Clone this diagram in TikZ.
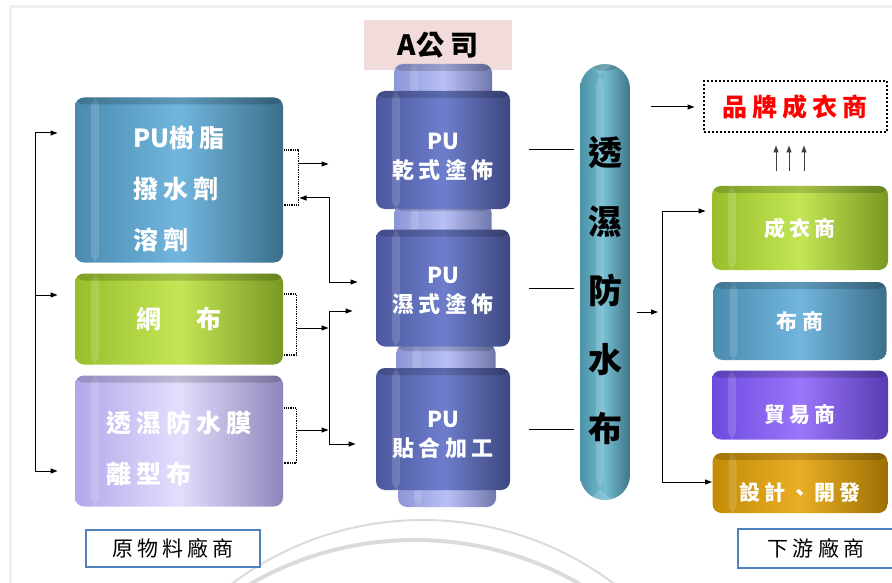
\documentclass[tikz,border=0pt]{standalone}
\usepackage{fontspec}
\setmainfont{Noto Sans CJK TC}
\newfontfamily\cjkw[LetterSpace=20]{Noto Sans CJK TC}
\usetikzlibrary{arrows.meta}

\definecolor{rawD}{HTML}{4A8BAE}   \definecolor{rawL}{HTML}{72B6DE}
\definecolor{meshD}{HTML}{98BE2C}  \definecolor{meshL}{HTML}{C4E655}
\definecolor{filmD}{HTML}{B2A8EA}  \definecolor{filmL}{HTML}{E4DEFD}
\definecolor{procD}{HTML}{4C589E}  \definecolor{procL}{HTML}{6E7ECC}
\definecolor{capD}{HTML}{8C96D6}   \definecolor{capL}{HTML}{B8C0F6}
\definecolor{pillD}{HTML}{4C92A6}  \definecolor{pillL}{HTML}{74BCD0}
\definecolor{tradeD}{HTML}{6E4ADE} \definecolor{tradeL}{HTML}{9A76FC}
\definecolor{desD}{HTML}{C28C04}   \definecolor{desL}{HTML}{EAAE26}
\definecolor{boxblue}{HTML}{4F81BD}
\definecolor{pinkbg}{HTML}{F2DCDB}

\newcommand\rawtxt{\cjkw\bfseries\fontsize{25}{51}\selectfont}
\newcommand\midtxt{\cjkw\bfseries\fontsize{22}{29}\selectfont}
\newcommand\pilltxt{\bfseries\fontsize{34}{69}\selectfont}
\newcommand\dntxt{\cjkw\bfseries\fontsize{21}{25}\selectfont}
\newcommand\lbltxt{\cjkw\fontsize{21}{25}\selectfont}

\tikzset{
  wh/.style 2 args={minimum width=#1, minimum height=#2},
  cyl/.style 2 args={rectangle, rounded corners=9pt, inner sep=0pt, align=center, text=white,
    left color=#1, right color=#1!80!black, middle color=#2,
    path picture={
      \fill[white, opacity=.15] ([xshift=16pt]path picture bounding box.south west)
        rectangle ([xshift=24pt]path picture bounding box.north west);
      \fill[black, opacity=.16] (path picture bounding box.north west)
        rectangle ([yshift=-7pt]path picture bounding box.north east);
    }},
  lblbox/.style={rectangle, draw=boxblue, line width=2pt, fill=white, inner sep=0pt, font=\lbltxt},
  dotbr/.style={densely dotted, line width=1.3pt},
  arr/.style={-{Triangle[length=7pt,width=5pt]}},
}

\begin{document}
\begin{tikzpicture}[x=1pt, y=-1pt, line width=1pt]

  %% background frame and arcs
  \draw[black!6, line width=3pt] (10,600) -- (10,7) -- (900,7);
  \draw[black!14, line width=2pt] (423,838) circle[radius=318pt];
  \draw[black!14, line width=4pt] (415,870) circle[radius=330pt];

  %% raw material suppliers
  \node[cyl={rawD}{rawL}, wh={208}{165}, align=left, font=\rawtxt, text height=142pt] (resin) at (179,180) {{\rmfamily PU}樹脂\\撥水劑\\溶劑};
  \node[cyl={meshD}{meshL}, wh={208}{91}, font=\rawtxt] (mesh) at (179,319) {網　布};
  \node[cyl={filmD}{filmL}, wh={208}{131}, align=left, font=\rawtxt, text height=88pt] (film) at (179,441) {透濕防水膜\\離型布};
  \node[lblbox, wh={174}{37}] (rawlbl) at (173,548) {原物料廠商};

  %% company A stack
  \node[fill=pinkbg, wh={148}{50}, font=\cjkw\bfseries\fontsize{28}{30}\selectfont] (comp) at (438,45) {{\rmfamily A}公司};
  \node[cyl={capD}{capL}, wh={98}{36}] (capTop) at (443,82) {};
  \node[cyl={capD}{capL}, wh={97}{36}] (cap12) at (443,222) {};
  \node[cyl={capD}{capL}, wh={99}{34}] (cap23) at (446,361) {};
  \node[cyl={capD}{capL}, wh={98}{24}] (capBot) at (447,495) {};
  \node[cyl={procD}{procL}, wh={134}{118}, font=\midtxt, text height=60pt] (dry) at (443,150) {{\rmfamily PU}\\乾式塗佈};
  \node[cyl={procD}{procL}, wh={134}{117}, font=\midtxt, text height=52pt] (wet) at (443,288) {{\rmfamily PU}\\濕式塗佈};
  \node[cyl={procD}{procL}, wh={134}{122}, font=\midtxt, text height=58pt] (lam) at (443,429) {{\rmfamily PU}\\貼合加工};

  %% product
  \node[cyl={pillD}{pillL}, rounded corners=25pt, wh={50}{436}, text=black, font=\pilltxt, text height=322pt] (fabric) at (605,282) {透\\濕\\防\\水\\布};

  %% downstream
  \node[draw, line width=2pt, dash pattern=on 2pt off 2pt, wh={183}{51}, text=red, font=\cjkw\bfseries\fontsize{25}{30}\selectfont] (brand) at (795,107) {品牌成衣商};
  \node[cyl={meshD}{meshL}, wh={176}{84}, font=\dntxt] (garment) at (800,228) {成衣商};
  \node[cyl={rawD}{rawL}, wh={173}{78}, font=\dntxt] (cloth) at (800,321) {布商};
  \node[cyl={tradeD}{tradeL}, wh={176}{69}, font=\dntxt, text height=38pt] (trade) at (800,405) {貿易商};
  \node[cyl={desD}{desL}, wh={175}{60}, font=\dntxt, text height=38pt] (design) at (800,483) {設計、開發};
  \node[lblbox, wh={156}{39}] (dnlbl) at (816,548) {下游廠商};

  %% left bus into raw materials
  \coordinate (busTop) at (35,133);
  \coordinate (busMid) at (35,295);
  \coordinate (busBot) at (35,471);
  \draw (busTop) -- (busBot);
  \draw[arr, shorten >=17pt] (busTop) -- (busTop -| resin.west);
  \draw[arr, shorten >=17pt] (busMid) -- (busMid -| mesh.west);
  \draw[arr, shorten >=17pt] (busBot) -- (busBot -| film.west);

  %% brackets and feeds into A
  \draw[dotbr] (resin.east |- 0,150) -- ++(15,0) -- ++(0,55) -- ++(-15,0);
  \draw[arr] (resin.east |- 0,164) ++(15,0) -- ++(30,0);
  \draw[{Triangle[length=7pt,width=5pt]}-{Triangle[length=7pt,width=5pt]}, shorten >=18pt]
    (resin.east |- 0,198) ++(16,0) -| (329,282) -- (wet.west |- 0,282);
  \draw[dotbr] (mesh.east |- 0,294) -- ++(13,0) -- ++(0,61) -- ++(-13,0);
  \draw[arr] (mesh.east |- 0,328) ++(13,0) -- ++(32,0);
  \draw[dotbr] (film.east |- 0,408) -- ++(13,0) -- ++(0,55) -- ++(-13,0);
  \draw[arr] (film.east |- 0,430) ++(13,0) -- ++(32,0);
  \coordinate (busA) at (329,311);
  \coordinate (busB) at (329,444);
  \draw (busA) -- (busB);
  \draw[arr, shorten >=23pt] (busA) -- (busA -| wet.west);
  \draw[arr, shorten >=20pt] (busB) -- (busB -| lam.west);

  %% A to product
  \foreach \n in {dry,wet,lam}
    \draw[shorten <=18pt, shorten >=6pt] (\n.east) -- (\n.east -| fabric.west);

  %% product to downstream
  \coordinate (busR) at (662,312);
  \draw[arr, shorten <=6pt, shorten >=4pt] (fabric.east |- busR) -- (busR);
  \draw (busR |- 0,211) -- (busR |- 0,482);
  \draw[arr, shorten >=6pt] (busR |- 0,211) -- (garment.west |- 0,211);
  \draw[arr] (busR |- 0,482) -- (design.west |- 0,482);
  \coordinate (brandIn) at (651,107);
  \draw[arr, shorten >=8pt] (brandIn) -- (brand.west);
  \foreach \x in {776,789,804}
    \draw[arr, black!75, shorten <=14pt, shorten >=12pt] (garment.north -| \x,0) -- (brand.south -| \x,0);

  \pgfresetboundingbox
  \path[use as bounding box] (0,0) rectangle (892,583);
\end{tikzpicture}
\end{document}
